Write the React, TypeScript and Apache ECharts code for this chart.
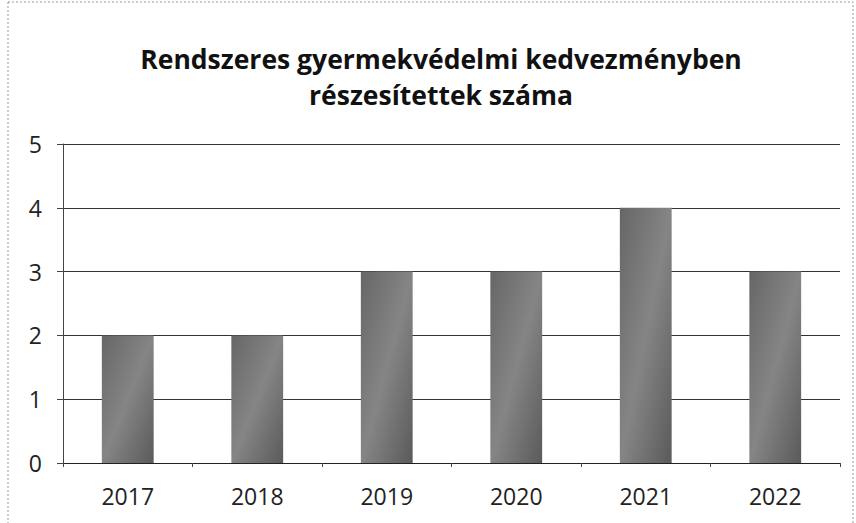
import React, { useEffect, useRef } from "react";
import * as echarts from "echarts";

const titleLines = ["Rendszeres gyermekvédelmi kedvezményben", "részesítettek száma"];
const categories = ["2017", "2018", "2019", "2020", "2021", "2022"];
const values = [2, 2, 3, 3, 4, 3];
const yTicks = [0, 1, 2, 3, 4, 5];

export default function App() {
  const ref = useRef<HTMLDivElement>(null);
  useEffect(() => {
    const chart = echarts.init(ref.current!, null, { renderer: "svg" });
    chart.setOption({
      animation: false,
      backgroundColor: "#ffffff",
      title: {
        text: titleLines.join("\n"),
        left: 436,
        textAlign: "center",
        top: 36,
        textStyle: {
          fontFamily: "Open Sans",
          fontWeight: "bold",
          fontSize: 26.5,
          lineHeight: 36,
          color: "#111",
        },
      },
      graphic: [
        {
          type: "rect",
          shape: { x: 8, y: 2, width: 845, height: 540 },
          style: { fill: "none", stroke: "#999", lineWidth: 1, lineDash: [2, 2] },
          silent: true,
          z: 0,
        },
      ],
      grid: { left: 63, right: 16, top: 144, bottom: 60 },
      xAxis: {
        type: "category",
        data: categories,
        axisLine: { show: true, lineStyle: { color: "#222", width: 1 } },
        axisTick: { show: true, length: 4, alignWithLabel: false, lineStyle: { color: "#444" } },
        axisLabel: { fontFamily: "Open Sans", fontSize: 23, color: "#222", margin: 21 },
      },
      yAxis: {
        type: "value",
        min: yTicks[0],
        max: yTicks[yTicks.length - 1],
        interval: 1,
        axisLine: { show: true, lineStyle: { color: "#444", width: 1 } },
        axisTick: { show: true, length: 6, lineStyle: { color: "#444" } },
        splitLine: { show: true, lineStyle: { color: "#333", width: 1 } },
        axisLabel: { fontFamily: "Open Sans", fontSize: 23, color: "#222", margin: 21 },
      },
      series: [
        {
          type: "bar",
          data: values,
          barWidth: "40%",
          itemStyle: {
            color: new echarts.graphic.LinearGradient(0, 0, 1, 1, [
              { offset: 0, color: "#666" },
              { offset: 0.5, color: "#858585" },
              { offset: 1, color: "#5a5a5a" },
            ]),
          },
        },
      ],
    });
    return () => chart.dispose();
  }, []);
  return (
    <div
      ref={ref}
      style={{ position: "absolute", left: 0, top: 0, width: 856, height: 523 }}
    />
  );
}
